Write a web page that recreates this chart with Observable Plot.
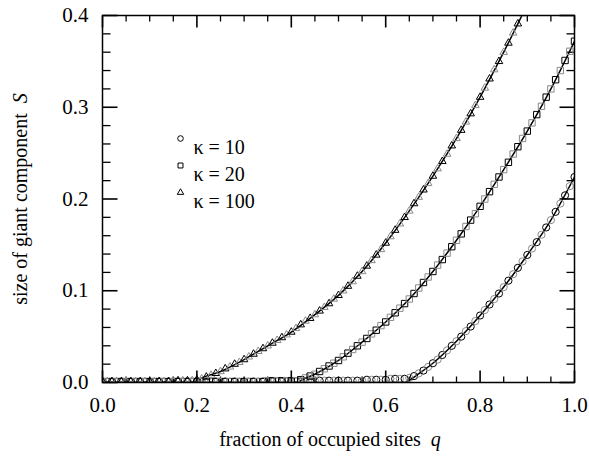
<!DOCTYPE html>
<html><head><meta charset="utf-8">
<script src="https://cdn.jsdelivr.net/npm/d3@7"></script>
<script src="https://cdn.jsdelivr.net/npm/@observablehq/plot@0.6"></script>
<style>body{margin:0;background:#fff;} svg{font-family:"Liberation Serif",serif;}</style>
</head><body><div id="chart"></div>
<script>
// simulation points (q grid, step 0.01)
const qGrid = [0,0.01,0.02,0.03,0.04,0.05,0.06,0.07,0.08,0.09,0.1,0.11,0.12,0.13,0.14,0.15,0.16,0.17,0.18,0.19,0.2,0.21,0.22,0.23,0.24,0.25,0.26,0.27,0.28,0.29,0.3,0.31,0.32,0.33,0.34,0.35,0.36,0.37,0.38,0.39,0.4,0.41,0.42,0.43,0.44,0.45,0.46,0.47,0.48,0.49,0.5,0.51,0.52,0.53,0.54,0.55,0.56,0.57,0.58,0.59,0.6,0.61,0.62,0.63,0.64,0.65,0.66,0.67,0.68,0.69,0.7,0.71,0.72,0.73,0.74,0.75,0.76,0.77,0.78,0.79,0.8,0.81,0.82,0.83,0.84,0.85,0.86,0.87,0.88,0.89,0.9,0.91,0.92,0.93,0.94,0.95,0.96,0.97,0.98,0.99,1.0];
const sK10 = [0.001,0.001,0.001,0.001,0.001,0.001,0.001,0.001,0.001,0.001,
0.001,0.001,0.001,0.001,0.001,0.001,0.001,0.001,0.001,0.001,
0.001,0.001,0.001,0.001,0.001,0.001,0.001,0.001,0.001,0.001,
0.001,0.001,0.001,0.001,0.001,0.001,0.001,0.001,0.001,0.001,
0.001,0.001,0.001,0.001,0.001,0.002,0.002,0.002,0.002,0.002,
0.002,0.002,0.002,0.002,0.002,0.002,0.003,0.003,0.003,0.003,
0.003,0.004,0.004,0.004,0.004,0.005,0.007,0.010,0.013,0.017,
0.021,0.025,0.030,0.035,0.040,0.045,0.050,0.056,0.061,0.067,
0.073,0.079,0.085,0.091,0.097,0.104,0.111,0.118,0.125,0.132,
0.139,0.146,0.153,0.161,0.169,0.177,0.186,0.195,0.204,0.214,0.224];
const sK20 = [0.001,0.001,0.001,0.001,0.001,0.001,0.001,0.001,0.001,0.001,
0.001,0.001,0.001,0.001,0.001,0.001,0.001,0.001,0.001,0.001,
0.001,0.001,0.001,0.001,0.001,0.001,0.001,0.001,0.001,0.001,
0.001,0.001,0.001,0.001,0.001,0.002,0.002,0.002,0.002,0.002,
0.002,0.002,0.003,0.005,0.007,0.009,0.012,0.015,0.018,0.021,
0.024,0.028,0.032,0.036,0.040,0.044,0.048,0.053,0.057,0.062,
0.066,0.071,0.076,0.081,0.086,0.091,0.097,0.103,0.109,0.115,
0.121,0.128,0.134,0.141,0.148,0.155,0.162,0.170,0.177,0.184,
0.192,0.200,0.208,0.216,0.224,0.232,0.240,0.249,0.257,0.266,
0.274,0.283,0.292,0.301,0.311,0.320,0.330,0.340,0.351,0.361,0.372];
const sK100 = [0.001,0.001,0.001,0.001,0.001,0.001,0.001,0.001,0.001,0.001,
0.001,0.001,0.001,0.001,0.001,0.002,0.002,0.002,0.002,0.002,
0.003,0.004,0.006,0.008,0.010,0.012,0.015,0.017,0.020,0.022,
0.025,0.028,0.031,0.034,0.037,0.040,0.043,0.046,0.049,0.052,
0.055,0.059,0.063,0.067,0.070,0.074,0.078,0.082,0.086,0.091,
0.095,0.100,0.105,0.110,0.116,0.121,0.127,0.133,0.139,0.145,
0.152,0.159,0.166,0.173,0.180,0.187,0.195,0.202,0.210,0.217,
0.225,0.233,0.241,0.249,0.258,0.266,0.275,0.284,0.293,0.302,
0.311,0.321,0.331,0.341,0.350,0.360,0.370,0.381,0.391,0.402];

// theory curves
const lineQ10 = [0,0.645,0.65,0.70,0.75,0.80,0.85,0.90,0.95,1.00];
const lineS10 = [0,0,0.002,0.021,0.045,0.073,0.104,0.139,0.177,0.224];
const lineQ20 = [0,0.415,0.42,0.45,0.50,0.55,0.60,0.65,0.70,0.75,0.80,0.85,0.90,0.95,1.00];
const lineS20 = [0,0,0.002,0.009,0.024,0.044,0.066,0.091,0.121,0.155,0.192,0.232,0.274,0.320,0.372];
const lineQ100 = [0,0.195,0.20,0.25,0.30,0.35,0.40,0.45,0.50,0.55,0.60,0.65,0.70,0.75,0.80,0.85,0.90];
const lineS100 = [0,0,0.002,0.012,0.025,0.040,0.055,0.074,0.095,0.121,0.152,0.187,0.225,0.266,0.311,0.360,0.412];

const legendLabels = ["κ = 10","κ = 20","κ = 100"];
const symbols = ["circle","square","triangle"];
const xMajor = [0,0.2,0.4,0.6,0.8,1.0];
const xMinor = [0.05,0.1,0.15,0.25,0.3,0.35,0.45,0.5,0.55,0.65,0.7,0.75,0.85,0.9,0.95];
const xTickLabels = ["0.0","0.2","0.4","0.6","0.8","1.0"];
const yMajor = [0,0.1,0.2,0.3,0.4];
const yMinor = [0.02,0.04,0.06,0.08,0.12,0.14,0.16,0.18,0.22,0.24,0.26,0.28,0.32,0.34,0.36,0.38];
const yTickLabels = ["0.0","0.1","0.2","0.3","0.4"];

const W = 589, H = 457, mL = 102, mR = 15, mT = 15, mB = 75;
const fw = W - mL - mR, fh = H - mT - mB;
const xDom = [0, 1], yDom = [0, 0.4];
const pxX = (xDom[1] - xDom[0]) / fw, pxY = (yDom[1] - yDom[0]) / fh;

const pts = (s) => s.map((v,i)=>({q:qGrid[i], s:v, i}));
const lin = (qs, ss) => qs.map((q,i)=>({q, s:ss[i]}));
const series = [sK10, sK20, sK100];
const sizes = [3.6, 3.6, 2.8];

const marks = [];
// inward ticks on all four sides, drawn as short links through the scales
const tkx = (vals, len, atY, dir, sw) => Plot.link(vals, {x1: d => d, x2: d => d, y1: () => atY, y2: () => atY + dir * len * pxY, stroke: "black", strokeWidth: sw});
const tky = (vals, len, atX, dir, sw) => Plot.link(vals, {y1: d => d, y2: d => d, x1: () => atX, x2: () => atX + dir * len * pxX, stroke: "black", strokeWidth: sw});
marks.push(tkx(xMajor, 12, yDom[0], 1, 1.6), tkx(xMinor, 6, yDom[0], 1, 1.3));
marks.push(tkx(xMajor, 12, yDom[1], -1, 1.6), tkx(xMinor, 6, yDom[1], -1, 1.3));
marks.push(tky(yMajor, 15, xDom[0], 1, 1.6), tky(yMinor, 8, xDom[0], 1, 1.3));
marks.push(tky(yMajor, 15, xDom[1], -1, 1.6), tky(yMinor, 8, xDom[1], -1, 1.3));

[[lineQ10,lineS10],[lineQ20,lineS20],[lineQ100,lineS100]].forEach(([a,b])=>{
  marks.push(Plot.line(lin(a,b), {x:"q", y:"s", stroke:"black", strokeWidth:1.5, curve:"monotone-x", clip:true}));
});
series.forEach((s,k)=>{
  marks.push(Plot.dot(pts(s), {x:"q", y:"s", symbol:()=>symbols[k], r:sizes[k], stroke:d=>d.i%2?"#8a8a8a":"black", strokeWidth:1, fill:"none", clip:true}));
});
legendLabels.forEach((t,k)=>{
  marks.push(Plot.dot([t], {frameAnchor:"top-left", dx:78, dy:123+k*27, symbol:()=>symbols[k], r:k===2?2.4:2.8, stroke:"black", strokeWidth:1, fill:"none"}));
  marks.push(Plot.text([t], {frameAnchor:"top-left", dx:91, dy:124+k*27, text:d=>d, textAnchor:"start", fontSize:20, fill:"black"}));
});
// tick labels
marks.push(Plot.axisX(xMajor, {anchor:"bottom", tickSize:0, tickPadding:15, tickFormat:d=>xTickLabels[xMajor.indexOf(d)], label:null, fontSize:21, fill:"black"}));
marks.push(Plot.axisY(yMajor, {anchor:"left", tickSize:0, tickPadding:14, tickFormat:d=>yTickLabels[yMajor.indexOf(d)], label:null, fontSize:21, fill:"black"}));
marks.push(Plot.frame({stroke:"black", strokeWidth:1.5}));

const chart = Plot.plot({
  width:W, height:H,
  marginLeft:mL, marginRight:mR, marginTop:mT, marginBottom:mB,
  x:{domain:xDom, axis:null}, y:{domain:yDom, axis:null},
  style:{fontFamily:"Liberation Serif, serif", background:"white", color:"black"},
  marks
});
document.getElementById("chart").appendChild(chart);

// axis titles with italic variable names
const svg = d3.select(chart);
const xtl = svg.append("text").attr("x",330).attr("y",446).attr("text-anchor","middle")
  .attr("font-size",20).attr("font-family","Liberation Serif, serif").attr("fill","black");
xtl.append("tspan").text("fraction of occupied sites  ");
xtl.append("tspan").attr("font-style","italic").text("q");
const ytl = svg.append("text").attr("transform","translate(27,199) rotate(-90)").attr("text-anchor","middle")
  .attr("font-size",20).attr("font-family","Liberation Serif, serif").attr("fill","black");
ytl.append("tspan").text("size of giant component  ");
ytl.append("tspan").attr("font-style","italic").text("S");
</script></body></html>
